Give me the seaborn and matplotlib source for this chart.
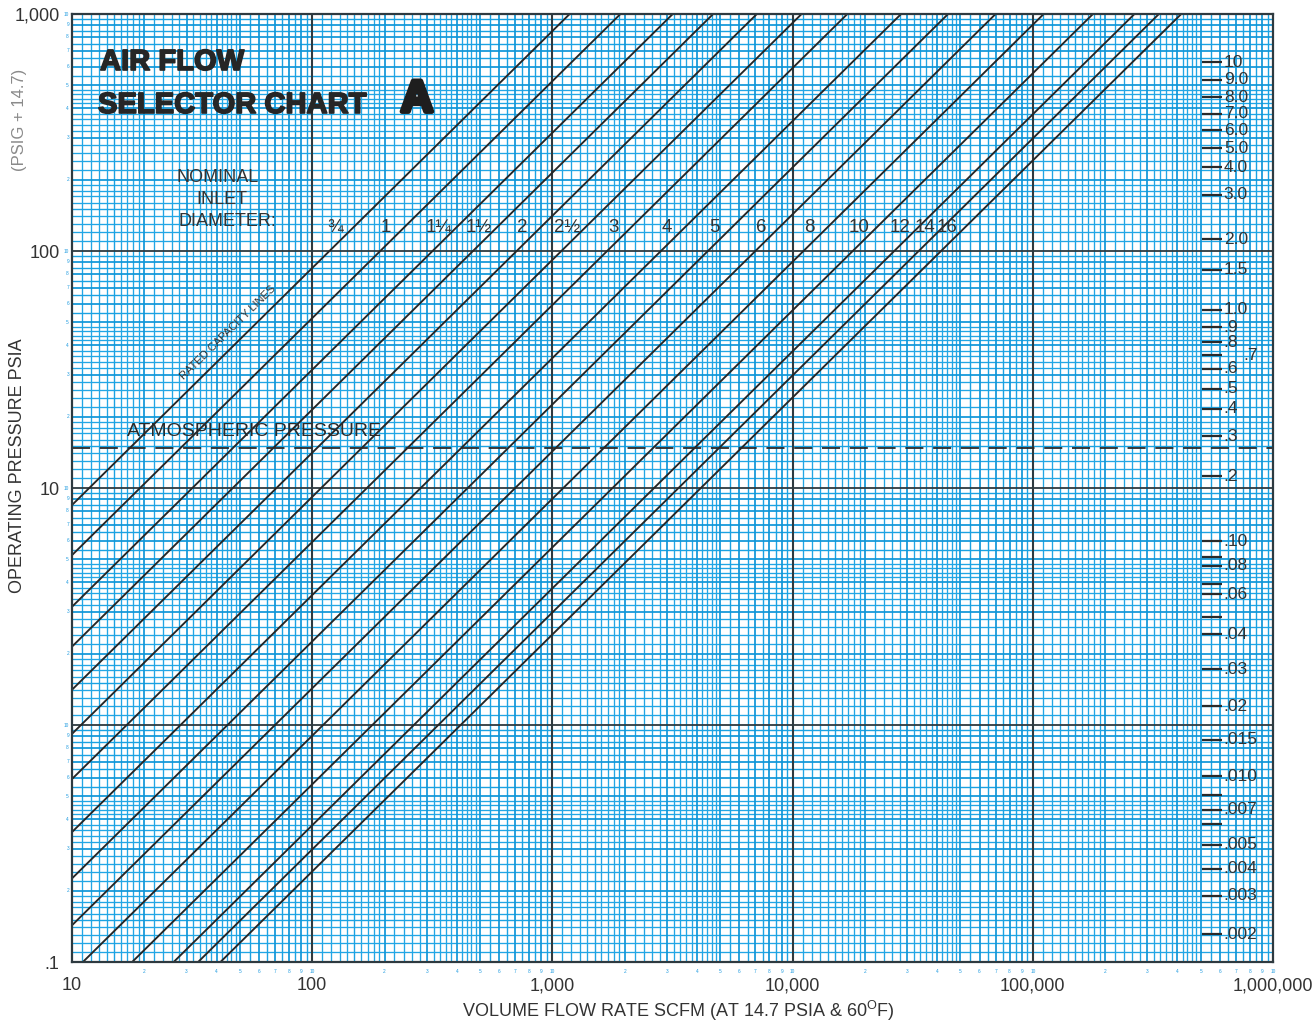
import numpy as np
import pandas as pd
import matplotlib
matplotlib.use("Agg")
import matplotlib.pyplot as plt
import matplotlib.patheffects as pe
import seaborn as sns

# ---- data ---------------------------------------------------------------
# nominal inlet diameter and its rated capacity (SCFM per psia of operating pressure)
diameters = ["¾", "1", "1¼", "1½", "2", "2½", "3", "4", "5", "6", "8", "10", "12", "14", "16"]
capacity_per_psia = [1.18, 1.92, 3.17, 4.67, 7.1, 10.9, 16.9, 28.3, 44.4, 70.0,
                     111.0, 178.0, 265.0, 335.0, 415.0]

atmospheric_psia = 14.7

x_ticks = [10, 100, 1000, 10000, 100000, 1000000]
x_tick_labels = ["10", "100", "1,000", "10,000", "100,000", "1,000,000"]
y_ticks = [0.1, 10, 100, 1000]
y_tick_labels = [".1", "10", "100", "1,000"]

# secondary scale along the right edge: printed value and the operating pressure (psia) it sits at
side_labels = ["10", "9.0", "8.0", "7.0", "6.0", "5.0", "4.0", "3.0", "2.0", "1.5",
               "1.0", ".9", ".8", ".7", ".6", ".5", ".4", ".3", ".2",
               ".10", ".08", ".06", ".04", ".03", ".02", ".015", ".010", ".007",
               ".005", ".004", ".003", ".002"]
side_psia = [626, 528, 446, 380, 324, 271, 226, 173, 112, 83.3,
             56.6, 47.6, 41.2, 36.4, 31.8, 26.2, 21.6, 16.5, 11.2,
             5.97, 4.69, 3.57, 2.42, 1.72, 1.20, 0.867, 0.608, 0.439,
             0.312, 0.248, 0.190, 0.131]
side_extra_psia = [5.12, 3.94, 2.86, 0.507, 0.381]

# ---- style --------------------------------------------------------------
sns.set_theme(style="white")
plt.rcParams["font.family"] = ["Liberation Sans", "DejaVu Sans"]
plt.rcParams["lines.scale_dashes"] = False

INK = "#333333"
BLUE_FINE = "#22A6E5"
BLUE_MID = "#1AA2E2"
BLUE_STRONG = "#0F96D8"

W, H = 1313, 1022
fig = plt.figure(figsize=(W / 100, H / 100), dpi=100)
fig.patch.set_facecolor("white")
L, R, T, B = 72, 1273, 14, 962
ax = fig.add_axes([L / W, 1 - B / H, (R - L) / W, (B - T) / H])
ax.set_facecolor("white")
ax.set_xscale("log")
ax.set_yscale("log")
xmin, xmax, ymin, ymax = 10, 1e6, 0.1, 1000
ax.set_xlim(xmin, xmax)
ax.set_ylim(ymin, ymax)


def px(x, y):
    return x / W, 1 - y / H


# ---- log graph paper ----------------------------------------------------
def paper_lines(lo, hi):
    fine, mid, strong = [], [], []
    for e in range(int(np.log10(lo)), int(np.log10(hi))):
        d = 10.0 ** e
        for v in np.arange(1.1, 2.0, 0.1):
            if abs(v - 1.5) > 1e-6:
                fine.append(v * d)
        for v in np.arange(2.2, 5.0, 0.2):
            if abs(v - round(v)) > 1e-6:
                fine.append(v * d)
        for v in [1.5, 5.5, 6.5, 7.5, 8.5, 9.5]:
            mid.append(v * d)
        for v in range(2, 10):
            strong.append(v * d)
    return fine, mid, strong


xf, xm, xs = paper_lines(xmin, xmax)
yf, ym, ys = paper_lines(ymin, ymax)
ax.vlines(xf, ymin, ymax, color=BLUE_FINE, lw=0.95, zorder=1)
ax.hlines(yf, xmin, xmax, color=BLUE_FINE, lw=0.95, zorder=1)
ax.vlines(xm, ymin, ymax, color=BLUE_MID, lw=1.0, zorder=1)
ax.hlines(ym, xmin, xmax, color=BLUE_MID, lw=1.0, zorder=1)
ax.vlines(xs, ymin, ymax, color=BLUE_STRONG, lw=1.25, zorder=1)
ax.hlines(ys, xmin, xmax, color=BLUE_STRONG, lw=1.25, zorder=1)
ax.vlines([100, 1000, 10000, 100000], ymin, ymax, color="#2e3a40", lw=1.5, zorder=2)
ax.hlines([1, 10, 100], xmin, xmax, color="#2e3a40", lw=1.3, zorder=2)

# ---- rated capacity lines ---------------------------------------------
rows = []
for name, c in zip(diameters, capacity_per_psia):
    p_lo = max(ymin, xmin / c)
    p_hi = min(ymax, xmax / c)
    for p in (p_lo, p_hi):
        rows.append({"diameter": name, "flow": c * p, "pressure": p})
df = pd.DataFrame(rows)
sns.lineplot(data=df, x="flow", y="pressure", hue="diameter", hue_order=diameters,
             palette=["#262626"] * len(diameters), estimator=None, sort=False,
             legend=False, linewidth=1.35, ax=ax, zorder=4)

# atmospheric pressure
ax.axhline(atmospheric_psia, color="#2a2a2a", lw=1.3, dashes=(13, 7), zorder=4)

# ---- axes, ticks --------------------------------------------------------
for s in ax.spines.values():
    s.set_color("#2e3a40")
    s.set_linewidth(1.6)
    s.set_zorder(5)
ax.set_xticks(x_ticks)
ax.set_xticklabels(x_tick_labels)
ax.set_yticks(y_ticks)
ax.set_yticklabels(y_tick_labels)
ax.minorticks_off()
ax.tick_params(axis="both", length=0, labelsize=13, labelcolor=INK)
ax.tick_params(axis="x", pad=11)
ax.tick_params(axis="y", pad=9)
ax.set_xlabel("")
ax.set_ylabel("")

# tiny blue printed digits along the left and bottom edges
for e in range(-1, 3):
    for k in range(2, 11):
        ax.text(-0.0025, k * 10.0 ** e, str(k), transform=ax.get_yaxis_transform(),
                ha="right", va="center", fontsize=3.4, color="#1f9be0", clip_on=False)
for e in range(1, 6):
    for k in range(2, 11):
        ax.text(k * 10.0 ** e, -0.007, str(k), transform=ax.get_xaxis_transform(),
                ha="center", va="top", fontsize=3.4, color="#1f9be0", clip_on=False)

# ---- secondary scale on the right --------------------------------------
ytr = ax.get_yaxis_transform()
x0, x1 = (1202 - L) / (R - L), (1222 - L) / (R - L)
for lab, p in zip(side_labels, side_psia):
    ax.plot([x0, x1], [p, p], transform=ytr, color="#2a2a2a", lw=1.6, zorder=6,
            solid_capstyle="butt")
    xt = x1 + 0.0015
    if lab == ".7":
        xt = (1243 - L) / (R - L)
    ax.text(xt, p, lab, transform=ytr, ha="left", va="center", fontsize=12.5,
            color=INK, zorder=6)
for p in side_extra_psia:
    ax.plot([x0, x1], [p, p], transform=ytr, color="#2a2a2a", lw=1.6, zorder=6,
            solid_capstyle="butt")

# ---- diameter labels ----------------------------------------------------
label_psia = 126
for name, c in zip(diameters, capacity_per_psia):
    ax.annotate(name, xy=(c * label_psia, label_psia), xytext=(-13, 0),
                textcoords="offset points", ha="center", va="center",
                fontsize=13.5, color=INK, zorder=6)

# ---- titles and captions ------------------------------------------------
heavy = [pe.withStroke(linewidth=1.2, foreground="#262626")]
fig.text(*px(100, 62), "AIR FLOW", fontsize=21, fontweight="bold", color="#262626",
         ha="left", va="center", path_effects=heavy, zorder=7)
fig.text(*px(98, 105), "SELECTOR CHART", fontsize=21, fontweight="bold", color="#262626",
         ha="left", va="center", path_effects=heavy, zorder=7)
fig.text(*px(417, 100), "A", fontsize=32, fontweight="bold", color="#1e1e1e",
         ha="center", va="center",
         path_effects=[pe.withStroke(linewidth=3.5, foreground="#1e1e1e")], zorder=7)

for txt, (tx, ty) in zip(["NOMINAL", "INLET", "DIAMETER:"],
                         [(218, 177), (222, 199), (227, 221)]):
    fig.text(*px(tx, ty), txt, fontsize=13, color=INK, ha="center", va="center", zorder=7)

fig.text(*px(228, 333), "RATED CAPACITY LINES", fontsize=8, color=INK,
         ha="center", va="center", rotation=44.5, rotation_mode="anchor", zorder=7)
fig.text(*px(254, 431), "ATMOSPHERIC PRESSURE", fontsize=14, color="#2a2a2a",
         ha="center", va="center", zorder=7)

fig.text(*px(18, 466), "OPERATING PRESSURE PSIA", fontsize=13, color=INK,
         rotation=90, ha="center", va="center")
fig.text(*px(20, 120), "(PSIG + 14.7)", fontsize=12, color="#8a8a8a",
         rotation=90, ha="center", va="center")
fig.text(*px(678, 1011), r"VOLUME FLOW RATE SCFM (AT 14.7 PSIA & 60$^{\mathregular{O}}$F)",
         fontsize=13, color=INK, ha="center", va="center")

fig.savefig("out.png", dpi=100, facecolor="white")
